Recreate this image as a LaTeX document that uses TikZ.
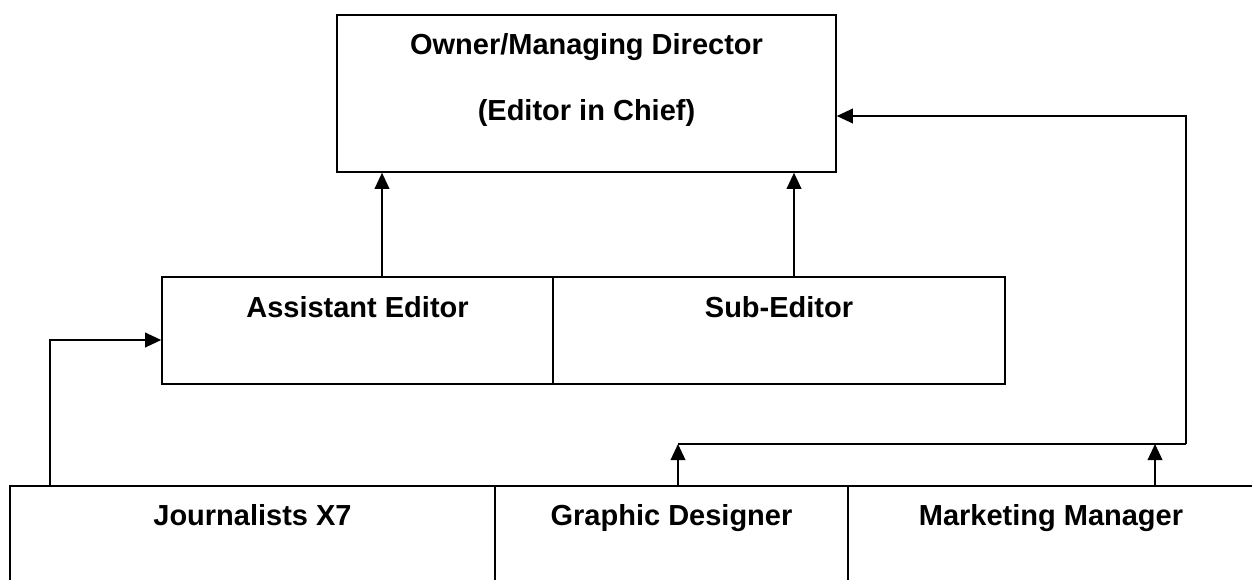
\documentclass[tikz,border=0pt]{standalone}
\usepackage{fontspec}
\setmainfont{Liberation Sans}
\usetikzlibrary{arrows.meta,fit}
\begin{document}
\begin{tikzpicture}[x=0.75pt,y=-0.75pt,
  box/.style={draw,line width=1.2pt,inner sep=0pt},
  lbl/.style={anchor=base,font=\fontsize{21.75pt}{26pt}\selectfont\bfseries,inner sep=0pt},
  arr/.style={line width=1.1pt,-{Triangle[length=12pt,width=11pt]}},
  conn/.style={line width=1.1pt}]
\useasboundingbox (0,0) rectangle (1252,579);
\clip (0,0) rectangle (1252,579);
% boxes
\node[box,fit={(337,15)(836,172)}] (od) {};
\node[box,fit={(162,277)(553,384)}] (ae) {};
\node[box,fit={(553,277)(1005,384)}] (se) {};
\node[box,fit={(10,486)(495,600)}] (jr) {};
\node[box,fit={(495,486)(848,600)}] (gd) {};
\node[box,fit={(848,486)(1256,600)}] (mm) {};
% texts
\node[lbl] (odt1) at (586.5,54) {Owner/Managing Director};
\node[lbl] (odt2) at (586.5,120) {(Editor in Chief)};
\node[lbl] (aet) at (357.5,317) {Assistant Editor};
\node[lbl] (set) at (779,317) {Sub-Editor};
\node[lbl] (jrt) at (252.5,525) {Journalists X7};
\node[lbl] (gdt) at (671.5,525) {Graphic Designer};
\node[lbl] (mmt) at (1051,525) {Marketing Manager};
% helper coordinates
\coordinate (xa) at (382,0);
\coordinate (xs) at (794,0);
\coordinate (xj) at (50,0);
\coordinate (ya) at (0,340);
\coordinate (yo) at (0,116);
\coordinate (hL) at (678,444);
\coordinate (hM) at (1155,444);
\coordinate (hR) at (1186,444);
% connectors
\draw[arr] (ae.north -| xa) -- (od.south -| xa);
\draw[arr] (se.north -| xs) -- (od.south -| xs);
\draw[arr] (jr.north -| xj) |- (ae.west |- ya);
\draw[arr] (gd.north -| hL) -- (hL);
\draw[arr] (mm.north -| hM) -- (hM);
\draw[conn] (hL) -- (hR);
\draw[arr] (hR) |- (od.east |- yo);
\end{tikzpicture}
\end{document}
